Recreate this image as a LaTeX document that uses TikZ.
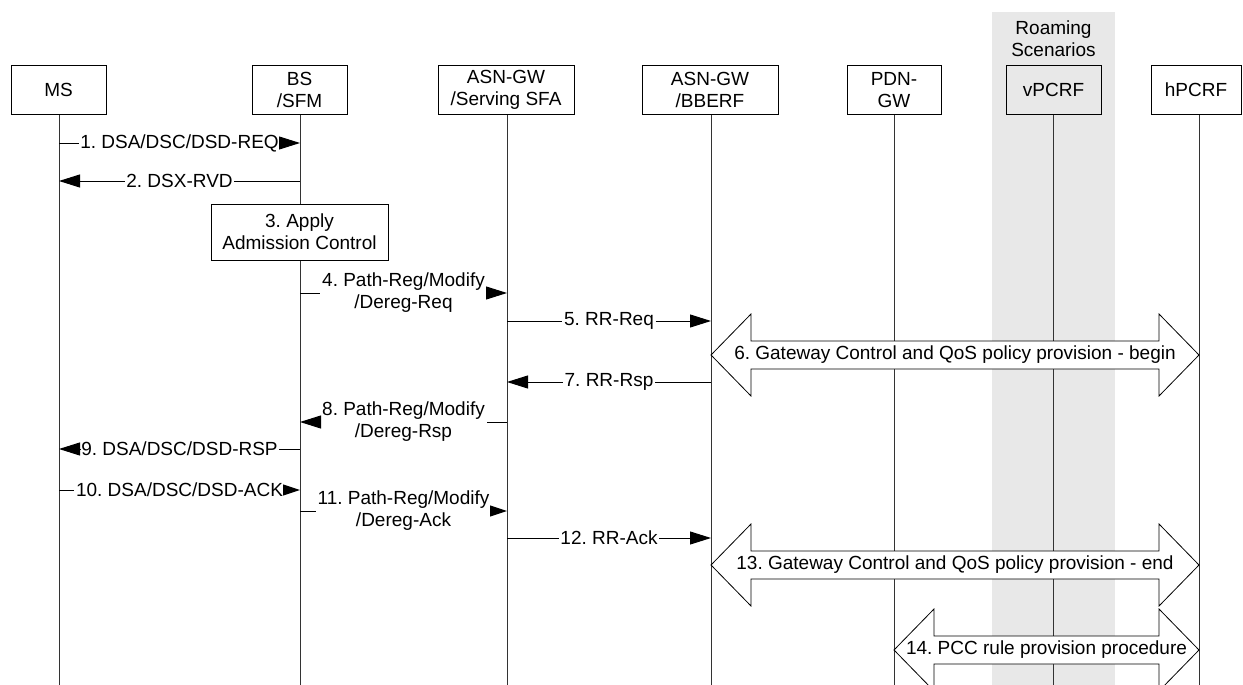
\documentclass[tikz,border=0pt]{standalone}
\usepackage{fontspec}
\setmainfont{Liberation Sans}
\usetikzlibrary{arrows.meta}
\definecolor{bandgray}{RGB}{232,232,232}
\newcommand{\lblfont}{\fontsize{19}{22}\selectfont\frenchspacing}
\tikzset{
  hdr/.style={draw, line width=1pt, minimum height=48pt, inner sep=0pt, align=center, font=\lblfont},
  lbl/.style={inner xsep=1.5pt, inner ysep=0pt, align=center, font=\lblfont},
  life/.style={line width=1pt, draw=black!80},
  msg/.style={line width=1pt},
  tip/.style={-{Triangle[length=21pt,width=13pt]}},
  smalltip/.style={-{Triangle[length=17pt,width=11pt]}},
  bigarrow/.style={draw, fill=white, line width=0.8pt, line join=miter}
}
\newcommand{\garrow}[3]{%
  \draw[bigarrow] (#1,#3) -- (#1+40,#3-41) -- (#1+40,#3-14) -- (#2-40,#3-14) -- (#2-40,#3-41) -- (#2,#3)
     -- (#2-40,#3+41) -- (#2-40,#3+14) -- (#1+40,#3+14) -- (#1+40,#3+41) -- cycle;}
\begin{document}
\frenchspacing
\begin{tikzpicture}[x=1pt,y=-1pt]
\useasboundingbox (0,0) rectangle (1243,685);
% roaming band
\fill[bandgray] (992,12) rectangle (1115,690);
\node[lbl] (roam) at (1053.5,39) {Roaming\\Scenarios};
\coordinate (bot) at (0,690);
% lifeline tops
\coordinate (lMS) at (59,114);
\coordinate (lBS) at (300,114);
\coordinate (lSFA) at (507,114);
\coordinate (lBB) at (711,114);
\coordinate (lPDN) at (894,114);
\coordinate (lV) at (1053.5,114);
\coordinate (lH) at (1199,114);
\foreach \c in {lMS,lBS,lSFA,lBB,lPDN,lV,lH} \draw[life] (\c) -- (\c |- bot);
% header boxes
\node[hdr, minimum width=95pt] (MS) at (58.5,90) {MS};
\node[hdr, minimum width=95pt] (BS) at (299.5,90) {BS\\/SFM};
\node[hdr, minimum width=136pt] (SFA) at (506,90) {ASN-GW\\/Serving SFA};
\node[hdr, minimum width=136pt] (BB) at (710,90) {ASN-GW\\/BBERF};
\node[hdr, minimum width=94pt] (PDN) at (894,90) {PDN-\\GW};
\node[hdr, minimum width=95pt] (V) at (1053.5,90) {vPCRF};
\node[hdr, minimum width=90pt] (H) at (1196,90) {hPCRF};
% 3. admission control
\node[hdr, fill=white, minimum width=177pt, minimum height=56pt] (ac) at (299.5,232) {3. Apply\\Admission Control};
% messages
\node[lbl] (m1) at (179.5,143) {1. DSA/DSC/DSD-REQ};
\draw[msg] (lMS |- m1) -- (m1.west);
\draw[msg,tip] (m1.east) -- (lBS |- m1);
\node[lbl] (m2) at (179.5,181) {2. DSX-RVD};
\draw[msg] (lBS |- m2) -- (m2.east);
\draw[msg,tip] (m2.west) -- (lMS |- m2);
\node[lbl] (m4) at (403.5,293) {4. Path-Reg/Modify\\/Dereg-Req};
\draw[msg] (lBS |- m4) -- (m4.west);
\draw[msg,tip] (m4.east) -- (lSFA |- m4);
\node[lbl] (m5) at (609,321) {5. RR-Req};
\draw[msg] (lSFA |- m5) -- (m5.west);
\draw[msg,tip] (m5.east) -- (lBB |- m5);
\node[lbl] (m7) at (609,382) {7. RR-Rsp};
\draw[msg] (lBB |- m7) -- (m7.east);
\draw[msg,tip] (m7.west) -- (lSFA |- m7);
\node[lbl] (m8) at (403.5,422) {8. Path-Reg/Modify\\/Dereg-Rsp};
\draw[msg] (lSFA |- m8) -- (m8.east);
\draw[msg,tip] (m8.west) -- (lBS |- m8);
\node[lbl] (m9) at (179.5,449) {9. DSA/DSC/DSD-RSP};
\draw[msg] (lBS |- m9) -- (m9.east);
\draw[msg,tip] (m9.west) -- (lMS |- m9);
\node[lbl] (m10) at (179.5,490) {10. DSA/DSC/DSD-ACK};
\draw[msg] (lMS |- m10) -- (m10.west);
\draw[msg,smalltip] (m10.east) -- (lBS |- m10);
\node[lbl] (m11) at (403.5,511) {11. Path-Reg/Modify\\/Dereg-Ack};
\draw[msg] (lBS |- m11) -- (m11.west);
\draw[msg,smalltip] (m11.east) -- (lSFA |- m11);
\node[lbl] (m12) at (609,538) {12. RR-Ack};
\draw[msg] (lSFA |- m12) -- (m12.west);
\draw[msg,tip] (m12.east) -- (lBB |- m12);
% big double arrows
\garrow{711}{1199}{355}
\node[lbl] (a6) at (955,355) {6. Gateway Control and QoS policy provision - begin};
\garrow{711}{1199}{565}
\node[lbl] (a13) at (955,565) {13. Gateway Control and QoS policy provision - end};
\garrow{894}{1199}{650}
\node[lbl] (a14) at (1046.5,650) {14. PCC rule provision procedure};
\end{tikzpicture}
\end{document}
